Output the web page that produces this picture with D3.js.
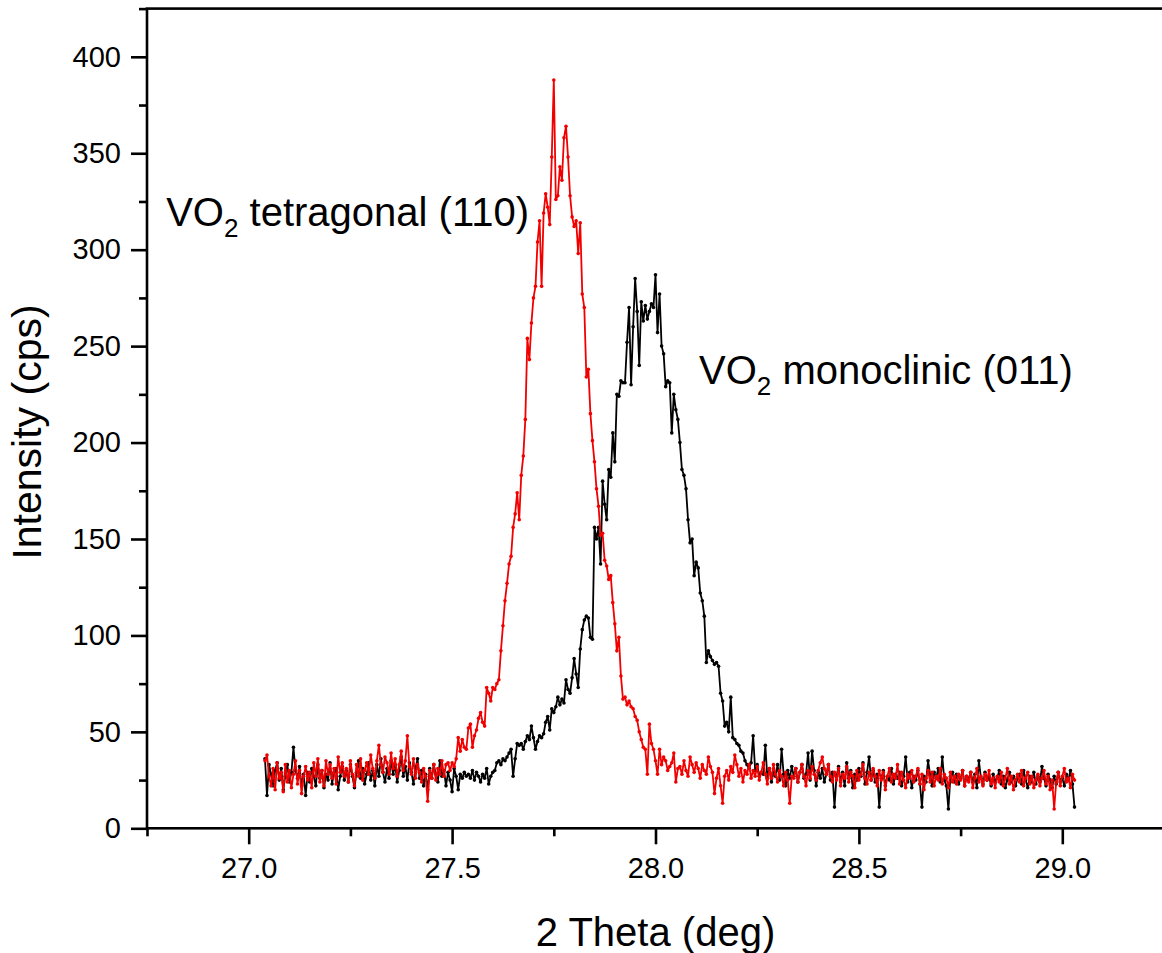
<!DOCTYPE html>
<html>
<head>
<meta charset="utf-8">
<script src="https://cdn.jsdelivr.net/npm/d3@7"></script>
<style>
  body { margin: 0; background: #fff; }
  svg text { font-family: "Liberation Sans", Arial, sans-serif; fill: #000; }
  .axis path, .axis line { stroke: #000; }
</style>
</head>
<body>
<div id="chart"></div>
<script>
// scan grid (deg)
const twoThetaStart = 27.04;
const twoThetaStep = 0.005;

// VO2 tetragonal (110), red
const tetragonalCps = [
  35,38,27,22,31,20,34,26,29,19,33,24,30,21,28,35,23,30,18,27,
  32,25,29,21,34,27,36,24,30,22,35,28,33,26,31,23,37,29,34,27,
  31,24,35,28,22,33,27,36,25,30,34,28,38,31,26,35,43,33,29,37,
  34,28,39,31,36,27,33,40,30,35,48,32,28,36,26,33,29,24,31,27,
  14,30,26,33,25,31,28,35,27,33,34,30,34,32,36,47,40,46,42,41,
  52,54,42,48,51,57,60,55,53,73,70,66,73,72,75,77,92,105,118,127,
  137,141,156,163,174,160,183,193,212,254,243,262,275,281,304,315,281,319,329,322,
  313,348,388,326,328,343,336,358,364,348,328,317,312,315,298,314,277,270,234,238,
  215,201,190,176,167,152,153,139,136,129,131,117,106,92,99,79,67,68,64,66,
  63,62,58,56,50,46,42,41,28,54,44,41,35,28,41,33,37,35,30,32,
  34,39,24,31,32,28,35,30,27,37,33,29,34,31,26,33,30,28,37,32,
  29,18,26,31,22,13,27,30,25,32,29,38,33,27,31,24,30,28,33,26,
  30,27,32,25,29,34,28,23,31,26,33,28,24,30,27,22,29,25,13,27,
  26,31,24,29,33,27,22,30,26,32,28,25,30,34,37,31,28,33,27,24,
  29,25,31,22,28,26,32,24,29,27,21,30,25,28,33,26,23,29,25,31,
  27,22,30,25,29,20,27,31,24,28,26,33,23,29,25,21,28,26,30,24,
  27,31,23,28,20,26,30,24,29,22,27,25,31,23,28,26,21,29,24,27,
  23,28,25,30,22,27,24,29,21,26,31,24,27,22,28,25,30,23,26,21,
  27,24,29,22,26,31,23,27,20,25,28,24,30,22,26,29,23,27,21,25,
  28,22,26,30,23,27,20,25,10,24,29,22,27,31,24,26,21,28,25
];

// VO2 monoclinic (011), black
const monoclinicCps = [
  36,17,33,28,22,30,34,25,31,20,27,33,24,29,42,30,26,32,22,28,
  17,29,24,31,27,22,33,26,30,21,28,25,34,23,29,31,20,27,32,25,
  30,24,33,27,21,29,35,26,31,23,28,34,25,30,22,33,27,36,29,24,
  31,26,35,28,33,24,30,37,27,32,25,34,29,23,31,36,26,30,22,28,
  20,31,26,33,28,24,35,27,30,22,29,25,19,31,27,20,28,26,29,27,
  28,26,30,25,29,27,24,28,26,31,23,27,29,30,34,35,33,36,35,37,
  39,41,27,36,44,43,44,41,45,48,46,53,47,41,45,48,47,49,55,58,
  51,62,60,63,68,64,67,65,77,72,70,78,88,80,73,93,103,108,110,109,
  99,98,156,150,156,137,180,168,160,186,182,205,190,225,224,232,231,231,252,270,
  230,260,285,268,240,273,263,271,264,268,272,270,287,257,277,250,246,229,232,231,
  205,225,217,212,200,186,183,176,160,148,150,131,138,135,122,118,110,86,92,89,
  87,85,86,84,70,66,53,55,50,68,47,46,44,43,40,39,35,33,31,34,
  48,30,33,27,29,28,43,26,31,24,29,27,33,25,41,28,22,30,26,32,
  27,31,24,29,33,26,28,39,25,40,30,22,29,26,31,24,28,33,25,29,
  11,27,32,24,29,22,34,26,30,21,28,25,31,27,34,23,29,37,25,30,
  24,28,11,26,30,22,27,25,31,23,28,26,29,22,27,37,24,29,21,27,
  25,30,23,11,27,24,35,28,22,29,26,31,24,37,25,22,10,27,29,24,
  28,23,26,30,22,27,25,29,24,28,21,35,26,23,29,25,27,22,28,24,
  26,30,23,27,21,25,29,24,27,22,26,28,23,30,25,21,27,24,29,23,
  27,24,32,26,22,28,25,21,27,23,29,24,26,22,28,25,30,23,11
];

const xTickValues = [27.0, 27.5, 28.0, 28.5, 29.0];
const xMinorValues = [26.75, 27.25, 27.75, 28.25, 28.75, 29.25];
const yTickValues = [0, 50, 100, 150, 200, 250, 300, 350, 400];
const yMinorValues = [25, 75, 125, 175, 225, 275, 325, 375, 425];

const params = {
    width: 1162,
    height: 953,
    left: 147,
    right: 1164,
    top: 8.6,
    bottom: 828.3
};

const svg = d3.select("#chart")
    .append("svg")
    .attr("width", params.width)
    .attr("height", params.height);

const xScale = d3.scaleLinear()
    .domain([26.75, 29.25])
    .range([params.left, params.right]);

const yScale = d3.scaleLinear()
    .domain([0, 425])
    .range([params.bottom, params.top]);

function toPoints(values) {
    return values.map((v, i) => ({ x: twoThetaStart + i * twoThetaStep, y: v }));
}

const series = [
    { name: "monoclinic", values: toPoints(monoclinicCps), color: "#000000" },
    { name: "tetragonal", values: toPoints(tetragonalCps), color: "#f20000" }
];

// frame
svg.append("rect")
    .attr("x", params.left)
    .attr("y", params.top)
    .attr("width", params.right - params.left)
    .attr("height", params.bottom - params.top)
    .attr("fill", "none")
    .attr("stroke", "#000")
    .attr("stroke-width", 2.6);

const line = d3.line()
    .x(d => xScale(d.x))
    .y(d => yScale(d.y));

series.forEach(s => {
    const g = svg.append("g").attr("class", s.name);
    g.append("path")
        .datum(s.values)
        .attr("d", line)
        .attr("fill", "none")
        .attr("stroke", s.color)
        .attr("stroke-width", 1.8)
        .attr("stroke-linejoin", "round");
    g.selectAll("circle")
        .data(s.values)
        .join("circle")
        .attr("cx", d => xScale(d.x))
        .attr("cy", d => yScale(d.y))
        .attr("r", 1.8)
        .attr("fill", s.color);
});

// axes
const xAxis = svg.append("g")
    .attr("class", "axis")
    .attr("transform", `translate(0, ${params.bottom})`)
    .call(d3.axisBottom(xScale).tickValues(xTickValues).tickFormat(d3.format(".1f"))
        .tickSize(16).tickSizeOuter(0).tickPadding(13));
xAxis.select(".domain").remove();
xAxis.selectAll("line").attr("stroke-width", 2.6);
xAxis.selectAll("text").attr("font-size", 29).attr("font-family", "Liberation Sans, Arial, sans-serif");

const xMinor = svg.append("g")
    .attr("class", "axis")
    .attr("transform", `translate(0, ${params.bottom})`)
    .call(d3.axisBottom(xScale).tickValues(xMinorValues).tickFormat("").tickSize(8).tickSizeOuter(0));
xMinor.select(".domain").remove();
xMinor.selectAll("line").attr("stroke-width", 2.6);

const yAxis = svg.append("g")
    .attr("class", "axis")
    .attr("transform", `translate(${params.left}, 0)`)
    .call(d3.axisLeft(yScale).tickValues(yTickValues).tickFormat(d3.format("d"))
        .tickSize(16).tickSizeOuter(0).tickPadding(10));
yAxis.select(".domain").remove();
yAxis.selectAll("line").attr("stroke-width", 2.6);
yAxis.selectAll("text").attr("font-size", 29).attr("font-family", "Liberation Sans, Arial, sans-serif");

const yMinor = svg.append("g")
    .attr("class", "axis")
    .attr("transform", `translate(${params.left}, 0)`)
    .call(d3.axisLeft(yScale).tickValues(yMinorValues).tickFormat("").tickSize(8).tickSizeOuter(0));
yMinor.select(".domain").remove();
yMinor.selectAll("line").attr("stroke-width", 2.6);

// axis titles
svg.append("text")
    .attr("x", xScale(28.0))
    .attr("y", 946)
    .attr("text-anchor", "middle")
    .attr("font-size", 40)
    .text("2 Theta (deg)");

svg.append("text")
    .attr("transform", `translate(41, 432) rotate(-90)`)
    .attr("text-anchor", "middle")
    .attr("font-size", 41)
    .text("Intensity (cps)");

// peak labels
function peakLabel(x, y, phase, anchor) {
    const t = svg.append("text")
        .attr("x", x)
        .attr("y", y)
        .attr("text-anchor", anchor)
        .attr("font-size", 40);
    t.append("tspan").text("VO");
    t.append("tspan").attr("font-size", 26).attr("dy", 11).text("2");
    t.append("tspan").attr("dy", -11).text(" " + phase);
}

peakLabel(529, 226, "tetragonal (110)", "end");
peakLabel(699, 384, "monoclinic (011)", "start");
</script>
</body>
</html>
